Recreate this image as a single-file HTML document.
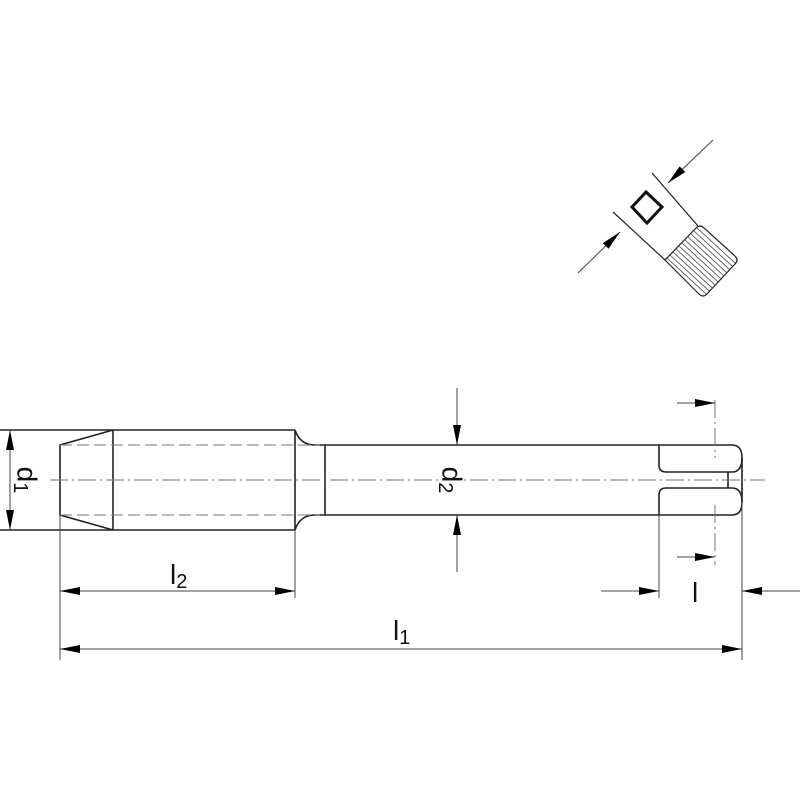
<!DOCTYPE html>
<html><head><meta charset="utf-8"><style>html,body{margin:0;padding:0;background:#fff}svg{display:block}</style></head>
<body>
<svg width="800" height="800" viewBox="0 0 800 800" xmlns="http://www.w3.org/2000/svg" font-family="Liberation Sans, sans-serif">
<defs>
<marker id="a" viewBox="0 0 20 8" refX="20" refY="4" markerWidth="20" markerHeight="8" markerUnits="userSpaceOnUse" orient="auto"><path d="M0,0 L20,4 L0,8 z" fill="#000"/></marker>
<clipPath id="hc"><path d="M696,228 Q700,224 704,228 L735,256 Q739,260 735,264 L707,294 Q703,298 699,294 L665,260 Z"/></clipPath>
</defs>
<g fill="none" stroke="#222" stroke-width="1.6">
<path d="M113,430 L60,445 L60,515 L113,530"/>
<path d="M0,430 L295,430 M0,530 L295,530"/>
<line x1="113" y1="430" x2="113" y2="530"/>
<line x1="295" y1="430" x2="295" y2="530"/>
<path d="M295,430 Q300,445 315,445 L325,445 M295,530 Q300,515 315,515 L325,515"/>
<line x1="325" y1="445" x2="325" y2="515"/>
<path d="M325,445 L732,445 Q742,445 742,458 L742,502 Q742,515 732,515 L325,515"/>
<path d="M742,458 Q742,472 732,472 L666,472 Q659,472 659,465 L659,445"/>
<path d="M742,502 Q742,488 732,488 L666,488 Q659,488 659,495 L659,515"/>
<line x1="728" y1="472" x2="728" y2="488"/>
</g>
<g fill="none" stroke="#777" stroke-width="1" stroke-dasharray="12,5">
<line x1="60" y1="445" x2="320" y2="445"/>
<line x1="60" y1="515" x2="320" y2="515"/>
</g>
<g fill="none" stroke="#777" stroke-width="1" stroke-dasharray="18,4,2,4">
<line x1="50" y1="480" x2="765" y2="480"/>
<line x1="715" y1="400" x2="715" y2="458"/>
<line x1="715" y1="505" x2="715" y2="565"/>
</g>
<g fill="none" stroke="#444" stroke-width="1">
<line x1="10" y1="480" x2="10" y2="430" marker-end="url(#a)"/>
<line x1="10" y1="480" x2="10" y2="530" marker-end="url(#a)"/>
<line x1="60" y1="515" x2="60" y2="660"/>
<line x1="295" y1="530" x2="295" y2="598"/>
<line x1="659" y1="515" x2="659" y2="598"/>
<line x1="742" y1="502" x2="742" y2="660"/>
<line x1="178" y1="591" x2="60" y2="591" marker-end="url(#a)"/>
<line x1="178" y1="591" x2="295" y2="591" marker-end="url(#a)"/>
<line x1="400" y1="649" x2="60" y2="649" marker-end="url(#a)"/>
<line x1="400" y1="649" x2="742" y2="649" marker-end="url(#a)"/>
<line x1="601" y1="591" x2="659" y2="591" marker-end="url(#a)"/>
<line x1="800" y1="591" x2="742" y2="591" marker-end="url(#a)"/>
<line x1="677" y1="403" x2="715" y2="403" marker-end="url(#a)"/>
<line x1="677" y1="557" x2="715" y2="557" marker-end="url(#a)"/>
<line x1="457" y1="388" x2="457" y2="445" marker-end="url(#a)"/>
<line x1="457" y1="572" x2="457" y2="515" marker-end="url(#a)"/>
<line x1="713" y1="140" x2="668" y2="183" marker-end="url(#a)"/>
<line x1="578" y1="273" x2="620" y2="232" marker-end="url(#a)"/>
</g>
<g stroke="#444" stroke-width="0.8" clip-path="url(#hc)">
<line x1="697" y1="228" x2="747" y2="274"/>
<line x1="694" y1="231" x2="744" y2="277"/>
<line x1="691" y1="234" x2="741" y2="280"/>
<line x1="688" y1="237" x2="738" y2="283"/>
<line x1="685" y1="240" x2="735" y2="286"/>
<line x1="682" y1="243" x2="732" y2="289"/>
<line x1="679" y1="246" x2="729" y2="292"/>
<line x1="676" y1="249" x2="726" y2="295"/>
<line x1="673" y1="252" x2="723" y2="298"/>
<line x1="670" y1="255" x2="720" y2="301"/>
<line x1="667" y1="258" x2="717" y2="304"/>
</g>
<g fill="none" stroke="#222" stroke-width="1.2">
<line x1="613" y1="212" x2="665" y2="260"/>
<line x1="652" y1="173" x2="698" y2="226"/>
<path d="M696,228 Q700,224 704,228 L735,256 Q739,260 735,264 L707,294 Q703,298 699,294 L665,260 Z"/>
</g>
<path d="M646,192 L662,207 L647,223 L632,207 Z" fill="none" stroke="#111" stroke-width="3"/>
<g fill="#111" font-size="28">
<text x="25" y="480" transform="rotate(90 25 480)" text-anchor="middle" dominant-baseline="middle">d<tspan font-size="20" dy="6">1</tspan></text>
<text x="450" y="480" transform="rotate(90 450 480)" text-anchor="middle" dominant-baseline="middle">d<tspan font-size="20" dy="6">2</tspan></text>
<text x="170" y="584">l<tspan font-size="20" dy="4">2</tspan></text>
<text x="393" y="640">l<tspan font-size="20" dy="4">1</tspan></text>
<text x="692" y="602">l</text>
</g>
</svg>
</body></html>
